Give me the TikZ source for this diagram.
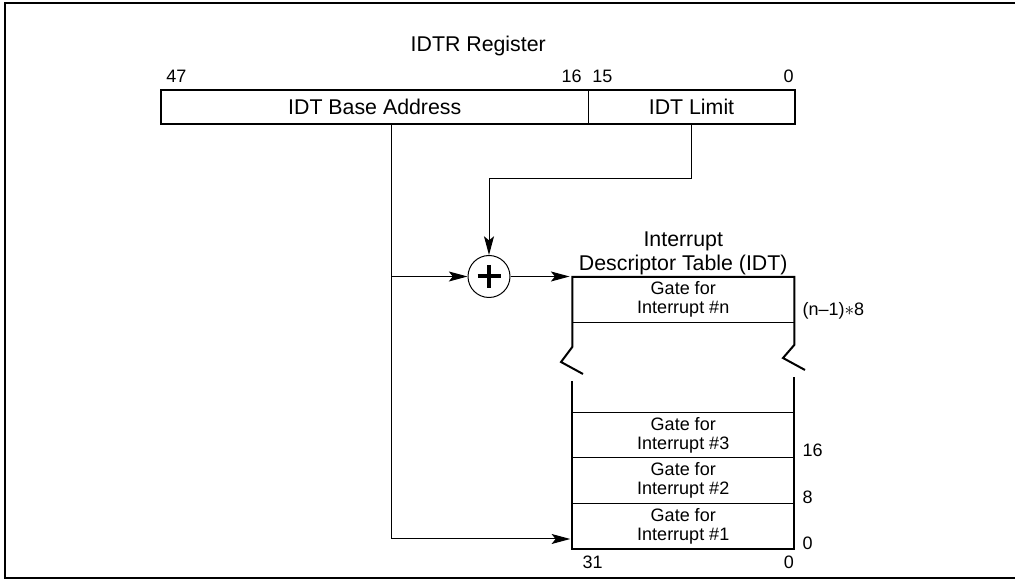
\documentclass[tikz,border=0pt]{standalone}
\usepackage{fontspec}
\setmainfont{Liberation Sans}
\usetikzlibrary{arrows.meta, positioning, calc}

\begin{document}
\begin{tikzpicture}[
  x=0.75pt, y=-0.75pt,
  big/.style={font=\fontsize{16}{18.5}\selectfont, inner sep=0pt, align=center},
  num/.style={font=\fontsize{13.5}{15.75}\selectfont, inner sep=0pt},
  regpart/.style={draw, line width=0.75pt, outer sep=0pt, minimum height=25.5pt, font=\fontsize{16}{18.5}\selectfont},
  gate/.style={draw, line width=0.75pt, outer sep=0pt, align=center, minimum width=166.5pt, minimum height=34.125pt, inner sep=0pt, font=\fontsize{13.5}{14.2}\selectfont},
  outline/.style={line width=1.5pt, line join=miter},
  arrow/.style={-{Stealth[length=14pt, width=7.5pt, inset=3pt]}, line width=0.75pt},
  plus/.style={line width=3pt}
]
\useasboundingbox (0,0) rectangle (1015,580);
\draw[line width=1.5pt] (5,3.5) rectangle (1030,578.5);

% IDTR register
\node[regpart, minimum width=319.9pt] (base) at (374.75,107) {IDT Base Address};
\node[regpart, minimum width=155.25pt, right=0pt of base] (limit) {IDT Limit};
\draw[outline] (base.north west) rectangle (limit.south east);
\coordinate (regtop) at ($(base.north west)!0.5!(limit.north east)$);
\node[big, anchor=base] (regname) at ($(regtop)+(0,-38)$) {IDTR Register};
\node[num, anchor=base west] (b47) at ($(base.north west)+(4.5,-7)$) {47};
\node[num, anchor=base east] (b16) at ($(base.north east)+(-6,-7)$) {16};
\node[num, anchor=base west] (b15) at ($(limit.north west)+(4,-7)$) {15};
\node[num, anchor=base east] (b0) at ($(limit.north east)+(-1,-7)$) {0};

% adder
\node[draw, circle, line width=0.75pt, minimum size=31.5pt, inner sep=0pt] (adder) at (489,276.5) {};
\draw[plus] ($(adder.center)+(-11.5,0)$) -- ++(23,0);
\draw[plus] ($(adder.center)+(0,-11.5)$) -- ++(0,23);

% descriptor table
\node[gate] (gate1) at (683.25,526.25) {Gate for\\Interrupt \#1};
\node[gate, above=0pt of gate1] (gate2) {Gate for\\Interrupt \#2};
\node[gate, above=0pt of gate2] (gate3) {Gate for\\Interrupt \#3};
\node[gate, anchor=north] (gaten) at (683.25,277) {Gate for\\Interrupt \#n};
\draw[outline] (583,374) -- (561,362) -- ($(gaten.north west)+(0,70)$) -- (gaten.north west)
  -- (gaten.north east) -- ($(gaten.north east)+(0,68)$) -- (783,358) -- (805,370);
\draw[outline] ($(gate3.north west)+(0,-31)$) -- (gate1.south west) -- (gate1.south east)
  -- ($(gate3.north east)+(0,-35)$);
\node[big, anchor=south, above=1pt of gaten] (idtname) {Interrupt\\Descriptor Table (IDT)};

\node[num, anchor=west] (offn) at ($(gaten.south east)+(8,-12)$) {(n–1)$\ast$8};
\node[num, anchor=west] (off16) at ($(gate3.south east)+(8,-8)$) {16};
\node[num, anchor=west] (off8) at ($(gate2.south east)+(8,-6.5)$) {8};
\node[num, anchor=west] (off0) at ($(gate1.south east)+(8,-6)$) {0};
\node[num, anchor=west] (t31) at ($(gate1.south west)+(10,13)$) {31};
\node[num, anchor=east] (t0) at ($(gate1.south east)+(0,13)$) {0};

% connectors
\coordinate (tap) at ($(base.south)+(17,0)$);
\draw[arrow, shorten >=1.5pt] (tap) |- ($(gate1.south west)+(0,-10)$);
\draw[arrow] (tap |- adder) -- (adder);
\draw[arrow] (limit.south) -- ++(0,55) -| (adder.north);
\draw[arrow, shorten >=2pt] (adder) -- (adder -| gaten.west);
\end{tikzpicture}
\end{document}
